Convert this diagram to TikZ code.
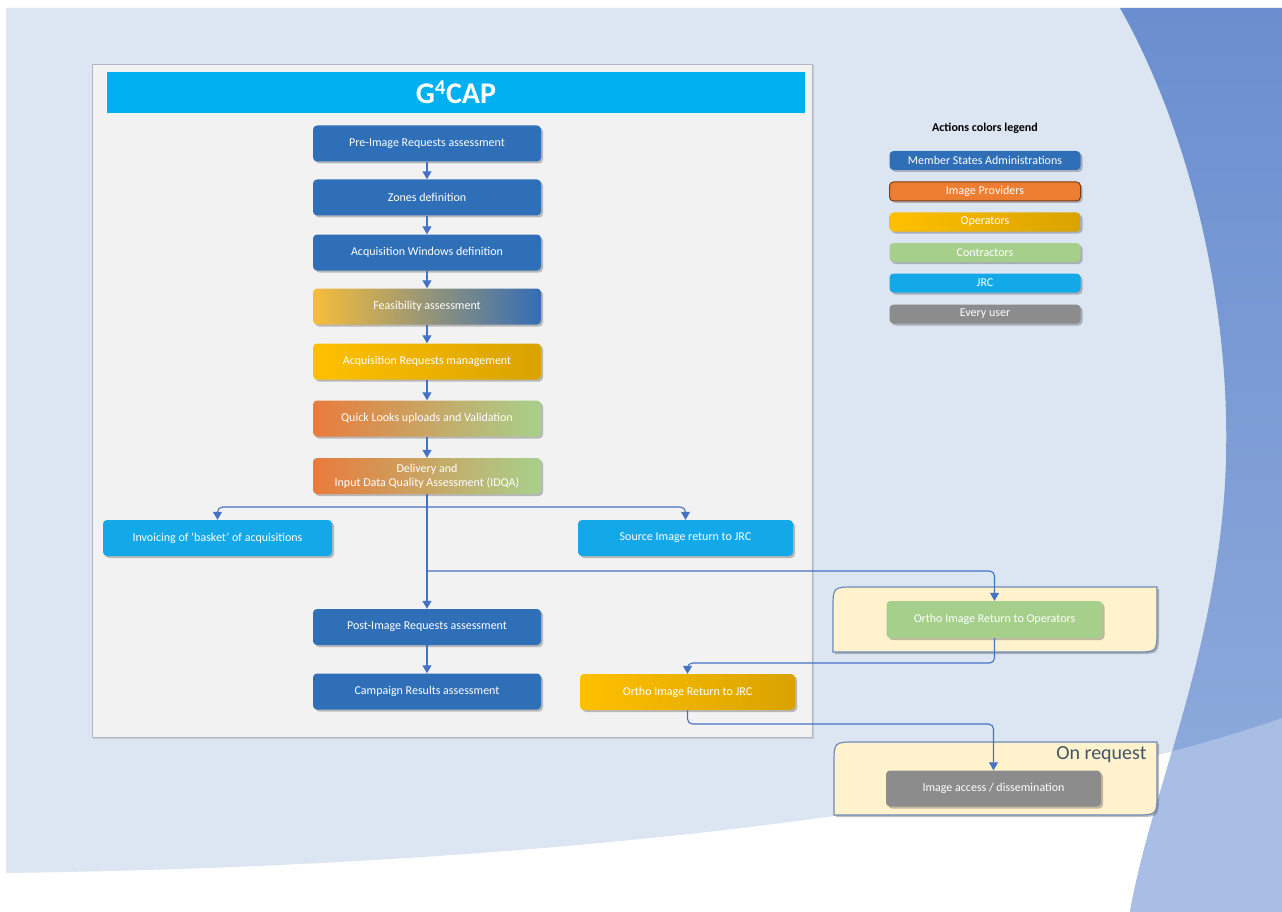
\documentclass[tikz,border=0pt]{standalone}
\usepackage{fontspec}
\setmainfont{Carlito}
\usetikzlibrary{arrows.meta,shadows,calc}
\definecolor{bglight}{HTML}{DCE5F2}
\definecolor{blobtop}{HTML}{6A8ECF}
\definecolor{blobbot}{HTML}{93AEDD}
\definecolor{band}{HTML}{A9BEE4}
\definecolor{panel}{HTML}{F2F2F2}
\definecolor{panelline}{HTML}{B0B6C2}
\definecolor{cyanbar}{HTML}{00B0F0}
\definecolor{msa}{HTML}{2E6FB7}
\definecolor{prov}{HTML}{ED7D31}
\definecolor{provdark}{HTML}{7A3A12}
\definecolor{oplight}{HTML}{FFC000}
\definecolor{opdark}{HTML}{D9A300}
\definecolor{contr}{HTML}{A5CF8A}
\definecolor{jrc}{HTML}{13A8E8}
\definecolor{every}{HTML}{8C8C8C}
\definecolor{feaslt}{HTML}{F7BD3A}
\definecolor{feasmid}{HTML}{A3918C}
\definecolor{feasrt}{HTML}{356DB5}
\definecolor{qlleft}{HTML}{E97B3C}
\definecolor{qlright}{HTML}{A8D08C}
\definecolor{conn}{HTML}{4472C4}
\definecolor{contfill}{HTML}{FFF2CC}
\definecolor{contline}{HTML}{6F89B8}
\definecolor{reqtext}{HTML}{44546A}
\tikzset{
  shad/.style={drop shadow={shadow xshift=2pt,shadow yshift=-2pt,opacity=0.35,fill=black!70}},
  box/.style={rectangle, rounded corners=4pt, minimum width=228pt, minimum height=36pt,
    text=white, font=\fontsize{12}{14}\selectfont, align=center, inner sep=0pt, shad},
  msabox/.style={box, fill=msa},
  jrcbox/.style={box, fill=jrc, minimum width=229pt},
  opbox/.style={box, left color=oplight, right color=opdark},
  legbox/.style={rectangle, rounded corners=4pt, minimum width=191pt, minimum height=19pt,
    text=white, font=\fontsize{12}{14}\selectfont, inner sep=0pt, shad},
  link/.style={draw=conn, line width=1.1pt, rounded corners=5pt, -{Triangle[width=9pt,length=8pt]}},
  cont/.style={fill=contfill, draw=contline, line width=1.2pt, shad}
}
\begin{document}
\begin{tikzpicture}[x=1pt,y=-1pt]
\useasboundingbox (0,0) rectangle (1282,912);
% background
\fill[white] (0,0) rectangle (1282,912);
\fill[bglight] (6,8) -- (1282,8) -- (1282,718) .. controls (1050,800) and (600,865) .. (6,873) -- cycle;
\begin{scope}
\clip (1120,8) .. controls (1200,150) and (1240,350) .. (1222,520) .. controls (1205,680) and (1150,800) .. (1130,912) -- (1282,912) -- (1282,8) -- cycle;
\shade[top color=blobtop, bottom color=blobbot] (1100,8) rectangle (1282,912);
\fill[band] (1282,718) .. controls (1050,800) and (600,865) .. (6,873) -- (6,912) -- (1282,912) -- cycle;
\end{scope}
% main panel
\filldraw[fill=panel, draw=panelline, line width=0.8pt, drop shadow={shadow xshift=1.5pt,shadow yshift=-1.5pt,opacity=0.25}] (92,64) rectangle (812,737);
\node[fill=cyanbar, minimum width=698pt, minimum height=41pt, inner sep=0pt, text=white,
  font=\fontsize{30}{32}\selectfont\bfseries] (title) at (456,92.5) {G\textsuperscript{4}CAP};
% containers
\path[cont] (833,652) -- (833,609) .. controls (833,587) .. (855,587) -- (1157,587) -- (1157,630) .. controls (1157,652) .. (1135,652) -- cycle;
\path[cont] (834,815) -- (834,764) .. controls (834,742) .. (856,742) -- (1157,742) -- (1157,793) .. controls (1157,815) .. (1135,815) -- cycle;
\node[anchor=east, text=reqtext, font=\fontsize{20}{22}\selectfont] (onreq) at (1150,755) {On request};
% main flow
\node[msabox] (pre) at (427,143.5) {Pre-Image Requests assessment};
\node[msabox] (zones) at (427,197.5) {Zones definition};
\node[msabox] (acqwin) at (427,252.5) {Acquisition Windows definition};
\node[box, left color=feaslt, middle color=feasmid, right color=feasrt] (feas) at (427,306.5) {Feasibility assessment};
\node[opbox] (acqreq) at (427,361.5) {Acquisition Requests management};
\node[box, left color=qlleft, right color=qlright] (ql) at (427,418.5) {Quick Looks uploads and Validation};
\node[box, left color=qlleft, right color=qlright] (deliv) at (427,476) {Delivery and\\Input Data Quality Assessment (IDQA)};
\node[jrcbox] (inv) at (217.5,538) {Invoicing of `basket' of acquisitions};
\node[jrcbox, minimum width=215pt] (src) at (685.5,538) {Source Image return to JRC};
\node[msabox] (post) at (427,627) {Post-Image Requests assessment};
\node[msabox] (camp) at (427,691.5) {Campaign Results assessment};
\node[opbox, minimum width=215pt] (orthojrc) at (687.5,692) {Ortho Image Return to JRC};
\node[box, fill=contr, minimum width=216pt, minimum height=37pt] (orthoop) at (994.5,619.5) {Ortho Image Return to Operators};
\node[box, fill=every, minimum width=215pt] (access) at (993.5,788.5) {Image access / dissemination};
% legend
\node[font=\fontsize{12}{14}\selectfont\bfseries] (legtitle) at (985,128) {Actions colors legend};
\node[legbox, fill=msa] (l1) at (985,160.5) {Member States Administrations};
\node[legbox, fill=prov, draw=provdark, line width=1pt] (l2) at (985,191.5) {Image Providers};
\node[legbox, left color=oplight, right color=opdark] (l3) at (985,222) {Operators};
\node[legbox, fill=contr] (l4) at (985,252.5) {Contractors};
\node[legbox, fill=jrc] (l5) at (985,283) {JRC};
\node[legbox, fill=every] (l6) at (985,314) {Every user};
% connectors
\foreach \a/\b in {pre/zones, zones/acqwin, acqwin/feas, feas/acqreq, acqreq/ql, ql/deliv, deliv/post, post/camp}
  \draw[link] (\a) -- (\b);
\coordinate (jA) at (427,507);
\coordinate (jB) at (427,571);
\coordinate (jC) at (994.5,663);
\coordinate (jD) at (687.5,724);
\draw[link] (jA) -| (inv);
\draw[link] (jA) -| (src);
\draw[link] (jB) -| (orthoop);
\draw[link] (orthoop) -- (jC) -| (orthojrc);
\draw[link] (orthojrc) -- (jD) -| (access);
\end{tikzpicture}
\end{document}
